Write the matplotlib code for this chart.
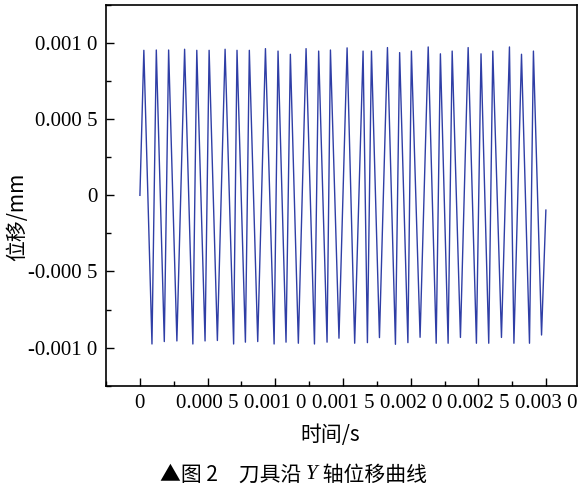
import matplotlib
matplotlib.use("Agg")
import matplotlib.pyplot as plt
from matplotlib import font_manager
from matplotlib.ticker import FixedLocator, FixedFormatter, MultipleLocator

# --- Данные: точки перегиба кривой (время в мкс, смещение в 1e-6 мм) ---
t_us = [0, 29, 89, 121, 180, 212, 273, 330, 391, 420, 481, 511, 572, 629,
        692, 717, 779, 808, 870, 927, 991, 1020, 1079, 1111, 1170, 1227,
        1289, 1320, 1382, 1407, 1470, 1530, 1586, 1648, 1680, 1710, 1769,
        1828, 1887, 1918, 1979, 2005, 2069, 2129, 2188, 2219, 2276, 2306,
        2367, 2424, 2485, 2519, 2576, 2606, 2670, 2729, 2762, 2818, 2877,
        2906, 2966, 2998]
disp_e6 = [0, 952, -976, 954, -960, 954, -956, 959, -976, 952, -956, 952,
           -953, 959, -976, 952, -964, 952, -960, 963, -976, 947, -964, 926,
           -971, 963, -976, 947, -964, 954, -938, 968, -971, 947, -967, 947,
           -934, 970, -978, 937, -967, 947, -932, 974, -971, 929, -971, 947,
           -933, 970, -971, 929, -971, 947, -933, 974, -971, 926, -971, 947,
           -917, -97]

y_ticks = [0.001, 0.0005, 0.0, -0.0005, -0.001]
y_labels = ["0.001 0", "0.000 5", "0", "-0.000 5", "-0.001 0"]
x_ticks = [0, 0.0005, 0.001, 0.0015, 0.002, 0.0025, 0.003]
x_labels = ["0", "0.000 5", "0.001 0", "0.001 5", "0.002 0", "0.002 5", "0.003 0"]

serif_path = font_manager.findfont("Liberation Serif")
serif_it_path = font_manager.findfont(font_manager.FontProperties(family="Liberation Serif", style="italic"))
SERIF = font_manager.FontProperties(fname=serif_path, size=15)
SERIF_IT = font_manager.FontProperties(fname=serif_it_path, size=15)
CJK = ["Noto Sans CJK SC", "Liberation Serif"]

t = [v * 1e-6 for v in t_us]
d = [v * 1e-6 for v in disp_e6]

fig = plt.figure(figsize=(5.87, 4.92), dpi=100)
ax = fig.add_axes([0.180, 0.216, 0.803, 0.774])

ax.plot(t, d, color="#2f3ea6", linewidth=1.0)

ax.set_xlim(-0.000253, 0.003228)
ax.set_ylim(-0.00125, 0.00125)

ax.xaxis.set_major_locator(FixedLocator(x_ticks))
ax.xaxis.set_minor_locator(MultipleLocator(0.00025))
ax.yaxis.set_major_locator(FixedLocator(y_ticks))
ax.yaxis.set_minor_locator(MultipleLocator(0.00025))
ax.set_xticklabels(x_labels, fontproperties=SERIF)
ax.set_yticklabels(y_labels, fontproperties=SERIF)

ax.tick_params(which="both", direction="in", top=False, right=False)
ax.tick_params(which="major", length=6, width=1.0, pad=6)
ax.tick_params(which="minor", length=3.5, width=1.0)

for s in ax.spines.values():
    s.set_linewidth(1.2)

fig.text(0.030, 0.560, "位移/mm", rotation=90, ha="center", va="center",
         fontsize=15, family=CJK)
fig.text(0.563, 0.116, "时间/s", ha="center", va="center", fontsize=15, family=CJK)

# подпись рисунка: куски подряд, потом центрируем
r = fig.canvas.get_renderer()
parts = [
    fig.text(0, 0.035, "▲图 2　刀具沿 ", va="center", fontsize=15, family=CJK),
    fig.text(0, 0.035, "Y", va="center", fontproperties=SERIF_IT),
    fig.text(0, 0.035, " 轴位移曲线", va="center", fontsize=15, family=CJK),
]
widths = [p.get_window_extent(r).width for p in parts]
x = (587 - sum(widths)) / 2
for p, w in zip(parts, widths):
    p.set_x(x / 587)
    x += w

fig.savefig("out.png", dpi=100)
